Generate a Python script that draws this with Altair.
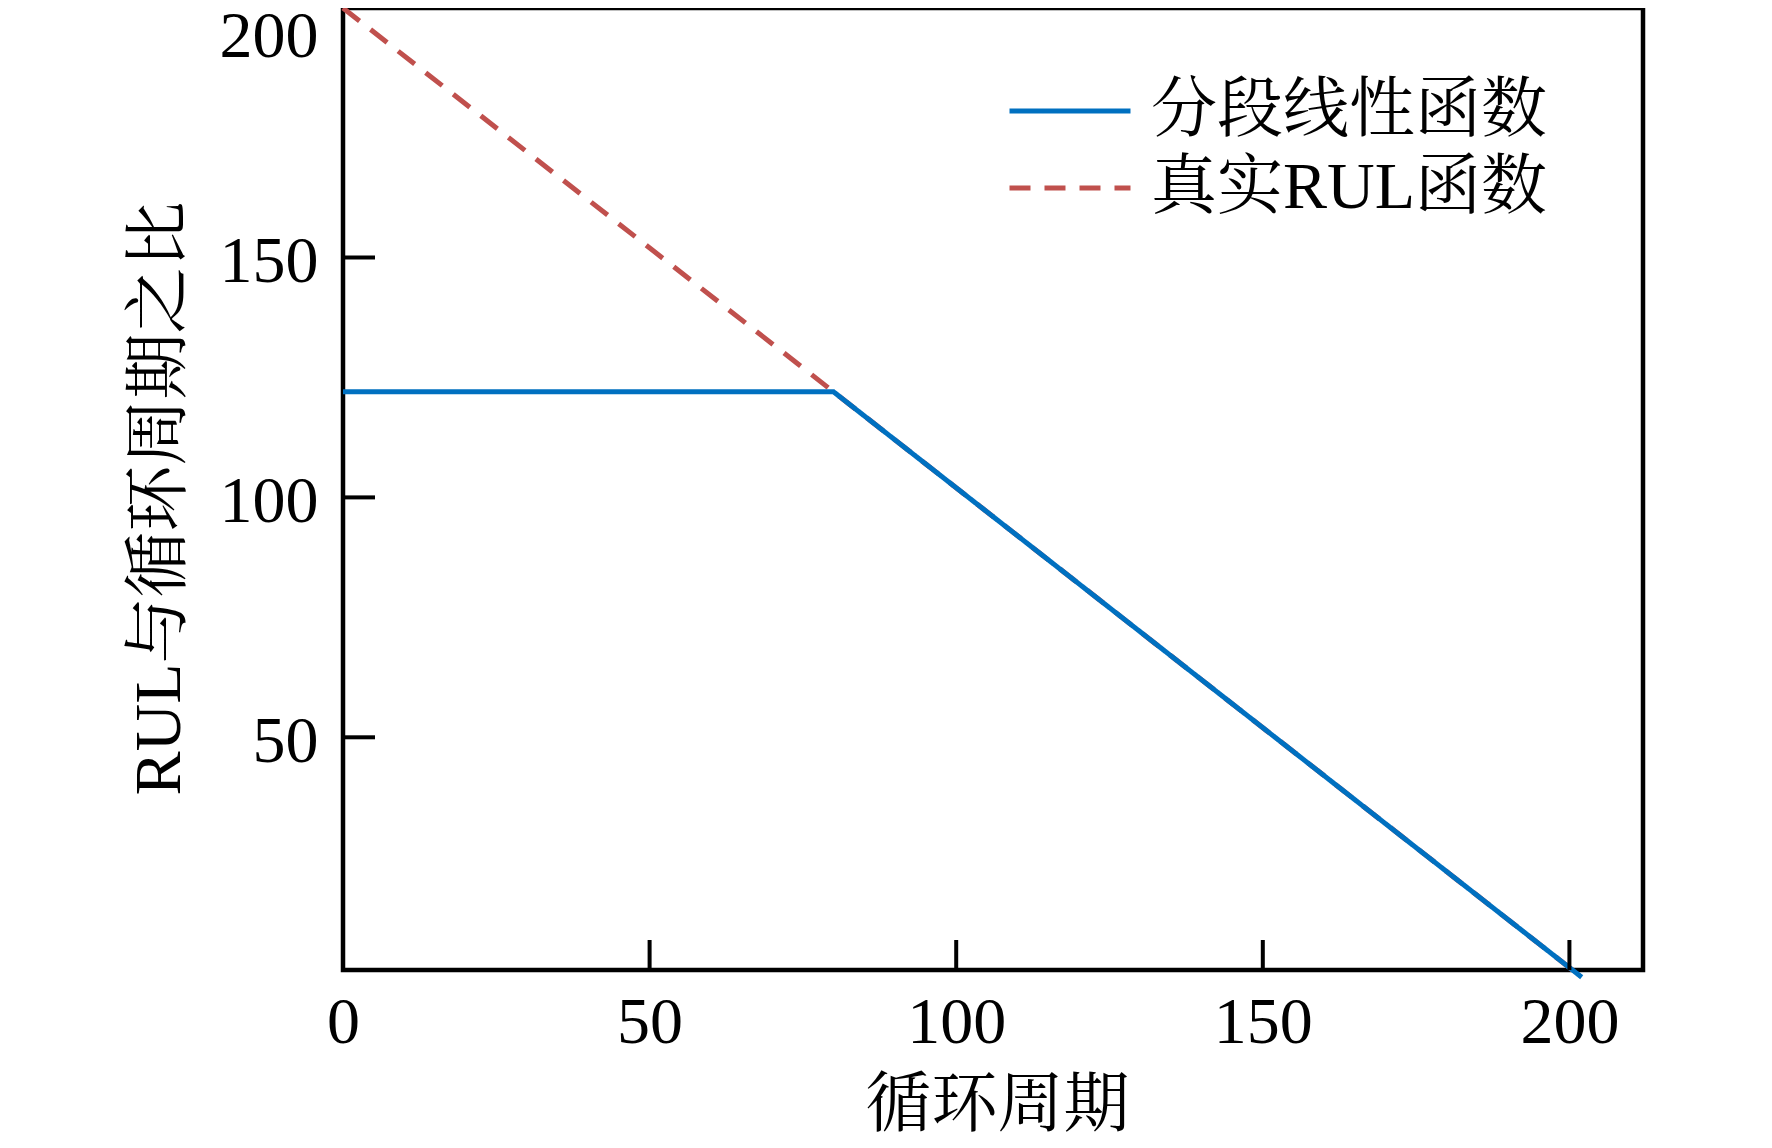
import altair as alt
import pandas as pd

# ---- data ----
series_names = ["分段线性函数", "真实RUL函数"]
series_colors = ["#0070C0", "#C0504D"]
series_dash = [[1, 0], [21, 14]]

piece_cycle = [0, 80, 202]
piece_rul = [122, 122, 0]
true_cycle = [0, 202]
true_rul = [202, 0]

x_tick_values = [0, 50, 100, 150, 200]
y_tick_values = [50, 100, 150, 200]
x_inner_ticks = [50, 100, 150, 200]
y_inner_ticks = [50, 100, 150]

x_title = "循环周期"
y_title = "RUL与循环周期之比"

# ---- tables ----
rows = []
for c, r in zip(piece_cycle, piece_rul):
    rows.append({"cycle": c, "rul": r, "series": series_names[0]})
for c, r in zip(true_cycle, true_rul):
    rows.append({"cycle": c, "rul": r, "series": series_names[1]})
lines = pd.DataFrame(rows)
xt = pd.DataFrame({"cycle": x_inner_ticks})
yt = pd.DataFrame({"rul": y_inner_ticks})

W, H = 1300, 962
FONT = "Liberation Serif, Noto Serif CJK SC, Noto Sans CJK SC"
xs = alt.Scale(domain=[0, 212], nice=False, zero=False)
ys = alt.Scale(domain=[1.5, 202], nice=False, zero=False)

legend = alt.Legend(
    title=None, orient="none", legendX=664, legendY=70,
    symbolType="stroke", symbolSize=14641, symbolStrokeWidth=5,
    labelFontSize=66, labelFont=FONT, labelColor="black", labelOffset=18,
    labelLimit=800, clipHeight=66, rowPadding=11, padding=0,
)
color = alt.Color("series:N", scale=alt.Scale(domain=series_names, range=series_colors), legend=legend)
dash = alt.StrokeDash("series:N", scale=alt.Scale(domain=series_names, range=series_dash), legend=legend)

xaxis = alt.Axis(
    values=x_tick_values, title=x_title, ticks=False, domain=False, grid=False,
    labelFontSize=66, labelFont=FONT, labelColor="black", labelPadding=20,
    labelFlush=False, labelOverlap=False, format="d",
    titleFontSize=66, titleFont=FONT, titleColor="black", titleFontWeight="normal",
    titleX=654, titleY=135, titleAlign="center", titleBaseline="middle",
)
yaxis = alt.Axis(
    values=y_tick_values, title=y_title, ticks=False, domain=False, grid=False,
    labelFontSize=66, labelFont=FONT, labelColor="black", labelPadding=25,
    labelFlush=False, labelOverlap=False, format="d",
    labelOffset={"condition": {"test": "datum.value == 200", "value": 19}, "value": 4},
    titleFontSize=66, titleFont=FONT, titleColor="black", titleFontWeight="normal",
    titleAngle=270, titleX=-184, titleY=490, titleAlign="center", titleBaseline="middle",
)

true_layer = alt.Chart(lines).transform_filter(
    alt.datum.series == series_names[1]
).mark_line(strokeWidth=5).encode(
    x=alt.X("cycle:Q", scale=xs, axis=xaxis),
    y=alt.Y("rul:Q", scale=ys, axis=yaxis),
    color=color, strokeDash=dash,
)
piece_layer = alt.Chart(lines).transform_filter(
    alt.datum.series == series_names[0]
).mark_line(strokeWidth=5).encode(
    x=alt.X("cycle:Q", scale=xs, axis=xaxis),
    y=alt.Y("rul:Q", scale=ys, axis=yaxis),
    color=color, strokeDash=dash,
)

xtick_layer = alt.Chart(xt).mark_rule(color="black", strokeWidth=4).encode(
    x=alt.X("cycle:Q", scale=xs, axis=xaxis),
    y=alt.value(H), y2=alt.value(H - 30),
)
ytick_layer = alt.Chart(yt).mark_rule(color="black", strokeWidth=4).encode(
    y=alt.Y("rul:Q", scale=ys, axis=yaxis),
    x=alt.value(0), x2=alt.value(32),
)

chart = alt.layer(true_layer, piece_layer, xtick_layer, ytick_layer).properties(
    width=W, height=H,
    autosize=alt.AutoSizeParams(type="none"),
    padding={"left": 335, "top": 0, "right": 120, "bottom": 170},
    background="white",
).configure_view(stroke="black", strokeWidth=4.5)

chart.save("out.html", embed_options={"renderer": "svg", "actions": False})
